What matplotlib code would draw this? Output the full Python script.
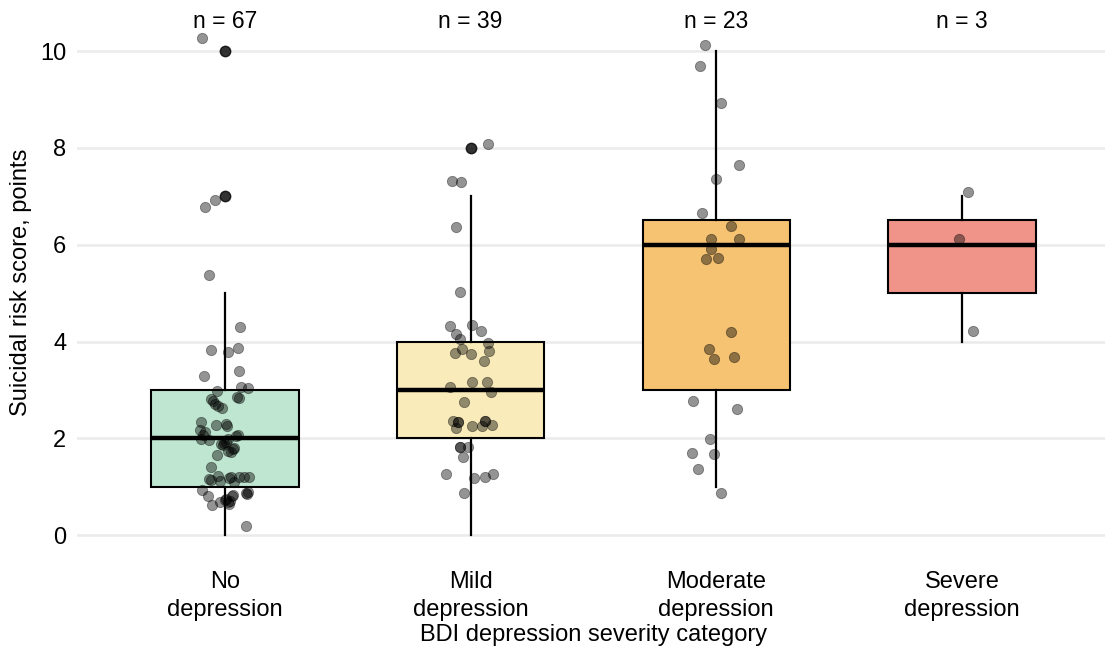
import matplotlib
matplotlib.use("Agg")
import matplotlib.pyplot as plt

plt.rcParams['font.family'] = ['Liberation Sans', 'DejaVu Sans']

# categories and box statistics
categories = ["No\ndepression", "Mild\ndepression", "Moderate\ndepression", "Severe\ndepression"]
n_labels = ["n = 67", "n = 39", "n = 23", "n = 3"]
fills = ["#BFE6D0", "#FAECBA", "#F6C372", "#F09389"]
q1 = [1, 2, 3, 5]
med = [2, 3, 6, 6]
q3 = [3, 4, 6.5, 6.5]
whislo = [0, 0, 1, 4]
whishi = [5, 7, 10, 7]
outliers = [[10, 7], [8], [], []]

# jittered points: score value and horizontal offset
g1_vals = [10.27, 6.93, 6.77, 5.37, 4.29, 3.82, 3.86, 3.78, 3.40, 3.28,
           3.06, 3.03, 2.97, 2.86, 2.84, 2.78, 2.71, 2.62, 2.34, 2.28,
           2.25, 2.17, 2.06, 2.07, 1.99, 1.96, 1.90, 1.99, 1.77, 1.71,
           1.66, 1.86, 1.40, 1.16, 1.23, 1.12, 1.17, 1.10, 1.21, 1.21,
           1.21, 0.94, 0.80, 0.62, 0.68, 0.69, 0.80, 0.75, 0.88, 0.84,
           0.18, 0.64,
           2.12, 1.93, 1.80, 1.74, 1.89, 2.29, 2.82, 2.66, 0.71, 0.73,
           0.83, 0.90, 1.13, 1.20, 2.04]
g1_dx = [-0.093, -0.04, -0.081, -0.066, 0.062, -0.057, 0.053, 0.015, 0.058, -0.085,
         0.068, 0.096, -0.033, 0.049, 0.058, -0.047, -0.039, -0.012, -0.098, -0.037,
         0.009, -0.1, -0.088, 0.054, -0.096, -0.066, -0.005, 0.012, 0.034, 0.024,
         -0.03, -0.009, -0.058, -0.066, -0.026, -0.02, 0.018, 0.037, 0.058, 0.079,
         0.099, -0.091, -0.069, -0.054, -0.02, 0.012, 0.028, 0.004, 0.085, 0.092,
         0.088, 0.018,
         -0.08, 0.006, 0.036, 0.015, -0.016, 0.006, -0.055, -0.026, 0.02, 0.0,
         0.035, 0.095, -0.055, 0.026, 0.045]

g2_vals = [8.09, 7.31, 7.29, 6.36, 5.03, 4.33, 4.34, 4.22, 4.15, 4.05,
           3.96, 3.84, 3.77, 3.81, 3.74, 3.60, 3.17, 3.17, 3.05, 2.96,
           2.75, 2.36, 2.33, 2.21, 2.36, 2.36, 2.25, 2.26, 2.28, 1.83,
           1.83, 1.83, 1.62, 1.27, 1.19, 1.21, 1.26, 0.87, 2.34]
g2_dx = [0.07, -0.075, -0.038, -0.06, -0.041, -0.084, 0.008, 0.042, -0.058, -0.041,
         0.07, -0.034, -0.062, 0.075, 0.003, 0.054, 0.007, 0.068, -0.084, 0.084,
         -0.027, -0.072, -0.051, -0.058, 0.058, 0.058, 0.004, 0.047, 0.088, -0.043,
         -0.043, -0.009, -0.03, -0.099, 0.016, 0.058, 0.091, -0.026, -0.05]

g3_vals = [10.12, 9.70, 8.93, 7.64, 7.36, 6.66, 6.38, 6.11, 6.11, 5.91,
           5.70, 5.73, 4.19, 3.84, 3.64, 3.68, 2.77, 2.61, 1.98, 1.69,
           1.67, 1.36, 0.87]
g3_dx = [-0.045, -0.068, 0.018, 0.093, 0.001, -0.058, 0.058, -0.022, 0.092, -0.022,
         -0.041, 0.007, 0.058, -0.028, -0.011, 0.072, -0.095, 0.085, -0.024, -0.098,
         -0.008, -0.076, 0.018]

g4_vals = [7.08, 6.11, 4.21]
g4_dx = [0.023, -0.012, 0.046]

points = [(g1_vals, g1_dx), (g2_vals, g2_dx), (g3_vals, g3_dx), (g4_vals, g4_dx)]

fig = plt.figure(figsize=(11.05, 6.51), dpi=100)
ax = fig.add_axes([0.070, 0.152, 0.934, 0.829])

stats = []
for i in range(4):
    stats.append(dict(q1=q1[i], med=med[i], q3=q3[i], whislo=whislo[i],
                      whishi=whishi[i], fliers=outliers[i]))
pos = [1, 2, 3, 4]
bp = ax.bxp(stats, positions=pos, widths=0.6, patch_artist=True, showcaps=False,
            boxprops=dict(edgecolor='black', linewidth=1.5),
            whiskerprops=dict(color='black', linewidth=1.6),
            medianprops=dict(color='black', linewidth=3.2, solid_capstyle='butt'),
            flierprops=dict(marker='o', markerfacecolor='black', markeredgecolor='black',
                            markersize=7.5, alpha=0.8),
            zorder=2)
for patch, c in zip(bp['boxes'], fills):
    patch.set_facecolor(c)

# jittered points on top
for i, (vals, dx) in enumerate(points):
    xs = [pos[i] + d for d in dx]
    ax.scatter(xs, vals, s=55, color='black', alpha=0.42, edgecolors='black',
               linewidths=0.6, zorder=3)

# sample sizes above each box
for i, lab in enumerate(n_labels):
    ax.text(pos[i], 10.62, lab, ha='center', va='center', fontsize=16.5, clip_on=False)

ax.set_xlim(0.4, 4.6)
ax.set_ylim(-0.35, 10.8)
ax.set_yticks([0, 2, 4, 6, 8, 10])
ax.set_yticklabels(["0", "2", "4", "6", "8", "10"], fontsize=17)
ax.set_xticks(pos)
ax.set_xticklabels(categories, fontsize=17, linespacing=1.32)
ax.tick_params(axis='y', length=0, pad=8)
ax.tick_params(axis='x', length=0, pad=14)
ax.grid(axis='y', color='#EBEBEB', linewidth=1.8, zorder=0)
ax.set_axisbelow(True)
for s in ax.spines.values():
    s.set_visible(False)

ax.set_xlabel("BDI depression severity category", fontsize=17, labelpad=2)
ax.set_ylabel("Suicidal risk score, points", fontsize=17, labelpad=6)

fig.savefig("out.png", dpi=100)
